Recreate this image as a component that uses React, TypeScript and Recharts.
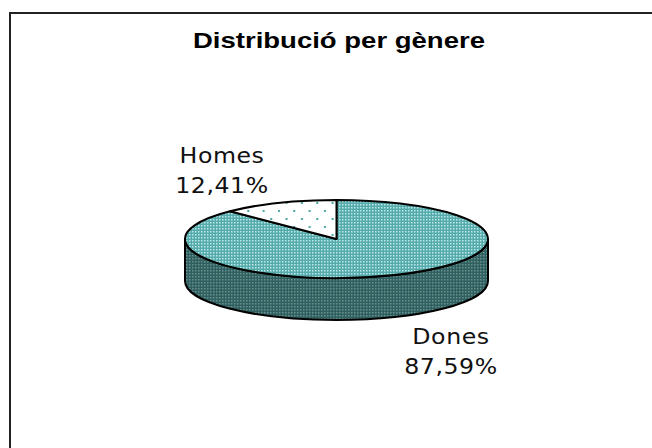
import React from 'react';
import { PieChart, Pie, Cell } from 'recharts';

const categories = ['Dones', 'Homes'];
const shares = [87.59, 12.41];
const titleText = 'Distribució per gènere';

const chartData = categories.map((name, i) => ({ name, value: shares[i] }));
const CX = 336.5, CY = 239, RX = 151.5, RY = 39, DEPTH = 42;
const topFills = ['url(#tealTop)', 'url(#dots)'];
const FONT = '"Liberation Sans", Arial, sans-serif';
const LABEL_FONT = '"DejaVu Sans", Verdana, sans-serif';
const labelPos: Record<string, { x: number; y: number }> = {
  Dones: { x: 451, y: 344 },
  Homes: { x: 222, y: 163 },
};
const rad = (d: number) => (d * Math.PI) / 180;
const ratio = RY / RX;
const pt = (cx: number, cy: number, r: number, a: number) => [cx + r * Math.cos(rad(a)), cy - r * ratio * Math.sin(rad(a))];

function TopSlice(p: any) {
  const { cx, cy, outerRadius: r, startAngle: s, endAngle: e, fill } = p;
  const [x0, y0] = pt(cx, cy, r, s);
  const [x1, y1] = pt(cx, cy, r, e);
  const large = Math.abs(s - e) > 180 ? 1 : 0;
  const sweep = s > e ? 1 : 0;
  return (
    <path
      d={`M${cx},${cy} L${x0},${y0} A${r},${r * ratio} 0 ${large} ${sweep} ${x1},${y1} Z`}
      fill={fill}
      stroke="#000"
      strokeWidth={2}
      strokeLinejoin="round"
    />
  );
}

function WallSlice(p: any) {
  const { cx, cy, outerRadius: r, startAngle: s, endAngle: e, fill } = p;
  const parts: React.ReactNode[] = [];
  for (let k = -2; k <= 1; k++) {
    const hi = Math.min(s, 360 * k);
    const lo = Math.max(e, 360 * k - 180);
    if (hi <= lo) continue;
    const [x0, y0] = pt(cx, cy, r, hi);
    const [x1, y1] = pt(cx, cy, r, lo);
    parts.push(
      <path
        key={k}
        d={`M${x0},${y0} A${r},${r * ratio} 0 0 1 ${x1},${y1} L${x1},${y1 + DEPTH} A${r},${r * ratio} 0 0 0 ${x0},${y0 + DEPTH} Z`}
        fill={fill}
        stroke="#000"
        strokeWidth={2}
        strokeLinejoin="round"
      />
    );
  }
  return <g>{parts}</g>;
}

function SliceLabel(p: any) {
  const pos = labelPos[p.name];
  if (!pos) return null;
  const txt = `${p.value.toFixed(2).replace('.', ',')}%`;
  return (
    <g transform={`translate(${pos.x} ${pos.y}) scale(1.1 1)`}>
      <text x={0} y={0} textAnchor="middle" fontFamily={LABEL_FONT} fontSize={21.5} letterSpacing={0.5} fill="#111">
        <tspan x={0} dy={0}>{p.name}</tspan>
        <tspan x={0} dy={30}>{txt}</tspan>
      </text>
    </g>
  );
}

export default function App() {
  return (
    <div style={{ position: 'absolute', left: 0, top: 0, width: 652, height: 448, background: '#fff', overflow: 'hidden' }}>
      <div style={{ position: 'absolute', left: 9, top: 12, right: 0, bottom: 0, borderLeft: '2px solid #222', borderTop: '2px solid #222' }} />
      <div style={{ position: 'absolute', left: 0, top: 0 }}>
        <PieChart width={652} height={448} margin={{ top: 0, right: 0, bottom: 0, left: 0 }}>
          <defs>
            <pattern id="tealTop" width="3" height="3" patternUnits="userSpaceOnUse">
              <rect width="3" height="3" fill="#55abab" />
              <rect x="0" y="0" width="1.5" height="1.5" fill="#bfe8e8" />
            </pattern>
            <pattern id="tealSide" width="3" height="3" patternUnits="userSpaceOnUse">
              <rect width="3" height="3" fill="#2f5f5f" />
              <rect x="0" y="0" width="1.5" height="1.5" fill="#6a9090" />
            </pattern>
            <pattern id="dots" width="15.33" height="16" patternUnits="userSpaceOnUse" x="2" y="2">
              <rect width="15.33" height="16" fill="#fff" />
              <rect x="0" y="0" width="2" height="2" fill="#4aa6a6" />
              <rect x="7.66" y="8" width="2" height="2" fill="#4aa6a6" />
            </pattern>
          </defs>
          <text x={339} y={48} textAnchor="middle" fontFamily={FONT} fontWeight="bold" fontSize={22} textLength={292} lengthAdjust="spacingAndGlyphs" fill="#000">
            {titleText}
          </text>
          <Pie
            data={chartData}
            dataKey="value"
            nameKey="name"
            cx={CX}
            cy={CY}
            outerRadius={RX}
            startAngle={90}
            endAngle={-270}
            stroke="none"
            isAnimationActive={false}
            shape={WallSlice}
            label={false}
            labelLine={false}
          >
            {chartData.map((d) => (
              <Cell key={d.name} fill="url(#tealSide)" />
            ))}
          </Pie>
          <Pie
            data={chartData}
            dataKey="value"
            nameKey="name"
            cx={CX}
            cy={CY}
            outerRadius={RX}
            startAngle={90}
            endAngle={-270}
            stroke="none"
            isAnimationActive={false}
            shape={TopSlice}
            label={SliceLabel}
            labelLine={false}
          >
            {chartData.map((d, i) => (
              <Cell key={d.name} fill={topFills[i]} />
            ))}
          </Pie>
        </PieChart>
      </div>
    </div>
  );
}
